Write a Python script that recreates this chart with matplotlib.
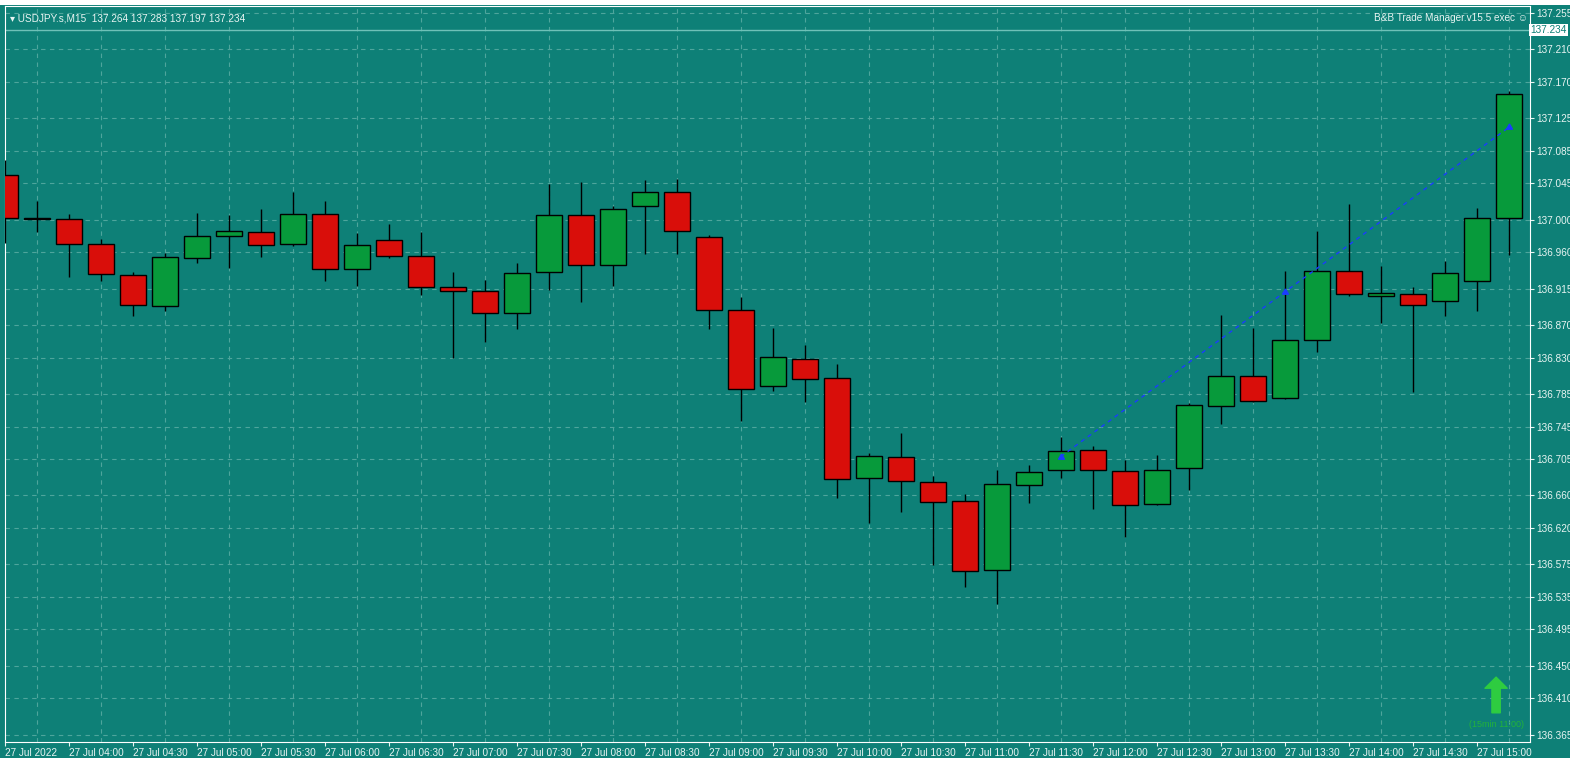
import matplotlib.pyplot as plt
import numpy as np

plt.rcParams["font.family"] = ["Liberation Sans", "DejaVu Sans"]

BG = "#0e8077"
GRID = "#4ea59c"
UP = "#079a3b"
DOWN = "#d90e0a"
TXT = "#e8f4f2"

opens = [137.055, 137.001, 137.001, 136.970, 136.932, 136.894, 136.953, 136.980,
         136.985, 136.970, 137.007, 136.939, 136.975, 136.955, 136.917, 136.912,
         136.885, 136.936, 137.006, 136.944, 137.017, 137.034, 136.979, 136.889,
         136.795, 136.828, 136.805, 136.682, 136.708, 136.677, 136.653, 136.568,
         136.673, 136.692, 136.716, 136.690, 136.650, 136.694, 136.770, 136.807,
         136.780, 136.852, 136.937, 136.906, 136.909, 136.900, 136.925, 137.002]
highs = [137.074, 137.023, 137.007, 136.976, 136.936, 136.959, 137.008, 137.006,
         137.013, 137.034, 137.023, 136.984, 136.995, 136.985, 136.936, 136.926,
         136.947, 137.044, 137.047, 137.017, 137.049, 137.050, 136.981, 136.905,
         136.867, 136.846, 136.822, 136.712, 136.737, 136.684, 136.662, 136.692,
         136.698, 136.732, 136.721, 136.704, 136.710, 136.774, 136.883, 136.867,
         136.937, 136.986, 137.020, 136.943, 136.917, 136.949, 137.015, 137.159]
lows = [136.971, 136.985, 136.930, 136.925, 136.881, 136.888, 136.947, 136.941,
        136.954, 136.968, 136.925, 136.918, 136.953, 136.907, 136.830, 136.849,
        136.865, 136.913, 136.899, 136.918, 136.958, 136.958, 136.865, 136.752,
        136.789, 136.775, 136.657, 136.626, 136.640, 136.574, 136.547, 136.526,
        136.651, 136.682, 136.643, 136.609, 136.648, 136.667, 136.748, 136.775,
        136.779, 136.837, 136.906, 136.873, 136.788, 136.881, 136.888, 136.957]
closes = [137.002, 137.001, 136.970, 136.933, 136.895, 136.954, 136.980, 136.986,
          136.969, 137.007, 136.939, 136.969, 136.955, 136.917, 136.912, 136.885,
          136.934, 137.006, 136.944, 137.013, 137.034, 136.986, 136.889, 136.791,
          136.831, 136.804, 136.680, 136.709, 136.678, 136.652, 136.567, 136.674,
          136.689, 136.715, 136.692, 136.648, 136.692, 136.772, 136.807, 136.777,
          136.852, 136.937, 136.909, 136.910, 136.895, 136.934, 137.002, 137.155]

time_labels = ["27 Jul 2022"] + [f"27 Jul {h:02d}:{m:02d}" for h in range(4, 16) for m in (0, 30)][:-1]
price_ticks = [137.255, 137.210, 137.170, 137.125, 137.085, 137.045, 137.000, 136.960,
               136.915, 136.870, 136.830, 136.785, 136.745, 136.705, 136.660, 136.620,
               136.575, 136.535, 136.495, 136.450, 136.410, 136.365]
current_price = 137.234
trend_x = [33, 40, 47]
trend_y = [136.708, 136.911, 137.114]

fig = plt.figure(figsize=(15.70, 7.66), dpi=100)
fig.patch.set_facecolor(BG)
ax = fig.add_axes([5 / 1570, 24 / 766, 1525 / 1570, 736 / 766])
ax.set_facecolor(BG)

idx = np.arange(len(opens))
o, h, l, c = map(np.array, (opens, highs, lows, closes))
ax.vlines(idx, l, h, color="black", lw=1, zorder=3)
up = c >= o
bottoms = np.minimum(o, c)
heights = np.maximum(np.abs(c - o), 0.0008)
ax.bar(idx, heights, bottom=bottoms, width=0.8,
       color=np.where(up, UP, DOWN), edgecolor="black", lw=1, zorder=4)

ax.plot(trend_x, trend_y, color="#1a3cff", ls=(0, (3, 3)), lw=1, zorder=5)
ax.plot(trend_x, trend_y, ls="none", marker=(3, 0, 0), ms=5, color="#1a3cff", zorder=5)
ax.axhline(current_price, color="#6fc1b8", lw=1, zorder=2)

ax.set_xlim(0, 47.66)
ax.set_ylim(136.356, 137.2636)
for y in price_ticks:
    ax.axhline(y, color=GRID, ls=(0, (4, 4)), lw=0.8, zorder=1)
for x in range(1, 48, 2):
    ax.axvline(x, color=GRID, ls=(0, (4, 4)), lw=0.8, zorder=1)

ax.yaxis.tick_right()
ax.set_yticks(price_ticks)
ax.set_yticklabels([f"{p:.3f}" for p in price_ticks])
ax.set_xticks(range(0, 48, 2))
ax.set_xticklabels(time_labels, ha="left")
ax.tick_params(colors=TXT, labelsize=7.2, length=3, pad=1.5)
for s in ax.spines.values():
    s.set_color("white")

ax.text(1.0, current_price, f"{current_price:.3f}", transform=ax.get_yaxis_transform(),
        ha="left", va="center", fontsize=7.2, color="#0e8077",
        bbox=dict(facecolor="white", edgecolor="none", pad=1.0), zorder=10, clip_on=False)
ax.text(0.003, 0.99, "\u25BE USDJPY.s,M15  137.264 137.283 137.197 137.234",
        transform=ax.transAxes, ha="left", va="top", fontsize=7.2, color=TXT)
ax.text(0.9985, 0.99, "B&B Trade Manager.v15.5 exec \u263A", transform=ax.transAxes,
        ha="right", va="top", fontsize=7.2, color=TXT)
ax.annotate("", xy=(46.6, 136.436), xytext=(46.6, 136.392),
            arrowprops=dict(color="#2ecc40", width=6, headwidth=16, headlength=8))
ax.text(46.6, 136.377, "(15min 11:00)", ha="center", va="center", fontsize=6.5, color="#22b33a")

fig.patches.append(plt.Rectangle((0, 0), 1, 8 / 766, transform=fig.transFigure,
                                 facecolor="white", edgecolor="none"))
fig.patches.append(plt.Rectangle((0, 761 / 766), 1, 5 / 766, transform=fig.transFigure,
                                 facecolor="white", edgecolor="none"))
fig.savefig("out.png", facecolor=BG)
